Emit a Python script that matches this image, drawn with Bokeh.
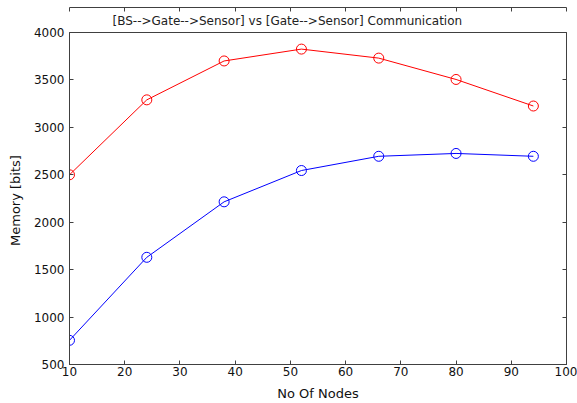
from bokeh.plotting import figure
from bokeh.models import Range1d, LinearAxis, FixedTicker, Title
from bokeh.embed import file_html
from bokeh.resources import INLINE

nodes = [10, 24, 38, 52, 66, 80, 94]
bs_gate_sensor = [2500, 3290, 3700, 3825, 3730, 3505, 3225]
gate_sensor = [755, 1630, 2215, 2545, 2695, 2725, 2695]
x_ticks = [10, 20, 30, 40, 50, 60, 70, 80, 90, 100]
y_ticks = [500, 1000, 1500, 2000, 2500, 3000, 3500, 4000]

FONT = "DejaVu Sans"
AXC = "#404040"

p = figure(width=577, height=403, output_backend="svg", toolbar_location=None,
           x_range=Range1d(10, 100), y_range=Range1d(500, 4000),
           min_border_left=69, min_border_right=11, min_border_top=32, min_border_bottom=36)
p.title = None
p.add_layout(Title(text="[BS-->Gate-->Sensor] vs [Gate-->Sensor] Communication",
                   align="left", offset=43, text_font=FONT, text_font_size="12px",
                   text_font_style="normal", text_color="#222222",
                   standoff=9), "above")
p.grid.visible = False
p.outline_line_color = AXC
p.outline_line_width = 1
p.background_fill_color = "white"
p.border_fill_color = "white"

for ax in [p.xaxis[0], p.yaxis[0]]:
    ax.major_tick_in = 4
    ax.major_tick_out = 0
    ax.minor_tick_line_color = None
    ax.axis_line_color = AXC
    ax.major_tick_line_color = AXC
    ax.major_label_text_font = FONT
    ax.major_label_text_font_size = "12px"
    ax.major_label_text_color = "#111111"
    ax.axis_label_text_font = FONT
    ax.axis_label_text_font_size = "13px"
    ax.axis_label_text_font_style = "normal"
    ax.axis_label_text_color = "#111111"

p.xaxis[0].ticker = FixedTicker(ticks=x_ticks)
p.yaxis[0].ticker = FixedTicker(ticks=y_ticks)
p.xaxis[0].axis_label = "No Of Nodes"
p.yaxis[0].axis_label = "Memory  [bits]"
p.xaxis[0].axis_label_standoff = 7
p.yaxis[0].axis_label_standoff = 8
p.xaxis[0].major_label_standoff = 2
p.yaxis[0].major_label_standoff = 5

top = LinearAxis(ticker=FixedTicker(ticks=x_ticks), major_label_text_font_size="0px",
                 major_tick_in=4, major_tick_out=0, minor_tick_line_color=None,
                 axis_line_color=AXC, major_tick_line_color=AXC)
right = LinearAxis(ticker=FixedTicker(ticks=y_ticks), major_label_text_font_size="0px",
                   major_tick_in=4, major_tick_out=0, minor_tick_line_color=None,
                   axis_line_color=AXC, major_tick_line_color=AXC)
top.major_label_standoff = 0
right.major_label_standoff = 0
p.add_layout(top, "above")
p.add_layout(right, "right")

p.line(nodes, bs_gate_sensor, line_color="#ff0000", line_width=1)
p.scatter(nodes, bs_gate_sensor, marker="circle", size=10, fill_color=None,
          line_color="#ff0000", line_width=1)
p.line(nodes, gate_sensor, line_color="#0000ff", line_width=1)
p.scatter(nodes, gate_sensor, marker="circle", size=10, fill_color=None,
          line_color="#0000ff", line_width=1)

open("out.html", "w").write(file_html(p, INLINE))
